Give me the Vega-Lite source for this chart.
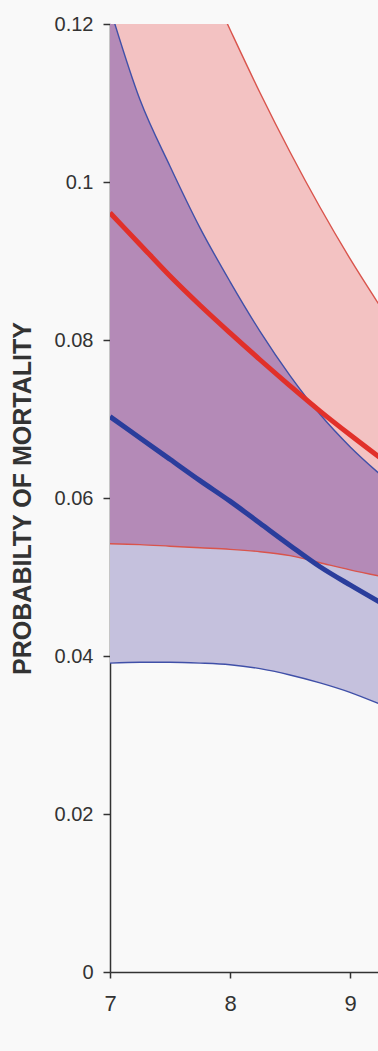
{
  "$schema": "https://vega.github.io/schema/vega-lite/v6.json",
  "width": 268,
  "height": 948,
  "autosize": {"type": "none"},
  "padding": {"left": 110, "top": 24, "right": 0, "bottom": 79},
  "background": "#f9f9f9",
  "config": {
    "view": {"stroke": null},
    "axis": {"grid": false, "labelFont": "Liberation Sans", "titleFont": "Liberation Sans", "labelColor": "#333333", "titleColor": "#333333", "domainColor": "#333333", "tickColor": "#333333", "domainWidth": 1.5, "tickWidth": 1.5, "labelFlush": false}
  },
  "data": {
    "values": [
      {"x": 7.0, "red_lo": 0.0542, "red_mean": 0.0961, "red_hi": 0.155, "blue_lo": 0.0391, "blue_mean": 0.0703, "blue_hi": 0.122},
      {"x": 7.25, "red_lo": 0.0541, "red_mean": 0.0921, "red_hi": 0.145, "blue_lo": 0.0392, "blue_mean": 0.0676, "blue_hi": 0.1104},
      {"x": 7.5, "red_lo": 0.0539, "red_mean": 0.0881, "red_hi": 0.136, "blue_lo": 0.0392, "blue_mean": 0.0649, "blue_hi": 0.102},
      {"x": 7.75, "red_lo": 0.0537, "red_mean": 0.0844, "red_hi": 0.1275, "blue_lo": 0.0391, "blue_mean": 0.0622, "blue_hi": 0.0942},
      {"x": 8.0, "red_lo": 0.0535, "red_mean": 0.0809, "red_hi": 0.1193, "blue_lo": 0.0389, "blue_mean": 0.0596, "blue_hi": 0.0874},
      {"x": 8.25, "red_lo": 0.0532, "red_mean": 0.0775, "red_hi": 0.1113, "blue_lo": 0.0384, "blue_mean": 0.0568, "blue_hi": 0.0811},
      {"x": 8.5, "red_lo": 0.0527, "red_mean": 0.0742, "red_hi": 0.1038, "blue_lo": 0.0376, "blue_mean": 0.054, "blue_hi": 0.0755},
      {"x": 8.75, "red_lo": 0.0518, "red_mean": 0.071, "red_hi": 0.0968, "blue_lo": 0.0366, "blue_mean": 0.0513, "blue_hi": 0.0706},
      {"x": 9.0, "red_lo": 0.0509, "red_mean": 0.068, "red_hi": 0.0903, "blue_lo": 0.0354, "blue_mean": 0.049, "blue_hi": 0.0665},
      {"x": 9.25, "red_lo": 0.0501, "red_mean": 0.0651, "red_hi": 0.0843, "blue_lo": 0.0339, "blue_mean": 0.0468, "blue_hi": 0.063}
    ]
  },
  "encoding": {
    "x": {"field": "x", "type": "quantitative", "scale": {"domain": [7, 9.2333], "nice": false, "zero": false},
      "axis": {"values": [7, 8, 9], "title": null, "labelFontSize": 22, "tickSize": 6, "labelPadding": 15}}
  },
  "layer": [
    {"mark": {"type": "area", "color": "#f3c2c2", "interpolate": "monotone", "clip": true},
     "encoding": {"y": {"field": "red_lo", "type": "quantitative", "scale": {"domain": [0, 0.12], "nice": false}, "title": "PROBABILTY OF MORTALITY",
        "axis": {"values": [0, 0.02, 0.04, 0.06, 0.08, 0.1, 0.12], "format": ".2~f", "labelFontSize": 20, "tickSize": 7, "labelPadding": 10, "titleFontSize": 25, "titleFontWeight": "bold", "titlePadding": 19}},
       "y2": {"field": "red_hi"}}},
    {"mark": {"type": "area", "color": "#c5c1dd", "interpolate": "monotone", "clip": true},
     "encoding": {"y": {"field": "blue_lo", "type": "quantitative", "scale": {"domain": [0, 0.12], "nice": false}, "title": "PROBABILTY OF MORTALITY",
        "axis": {"values": [0, 0.02, 0.04, 0.06, 0.08, 0.1, 0.12], "format": ".2~f", "labelFontSize": 20, "tickSize": 7, "labelPadding": 10, "titleFontSize": 25, "titleFontWeight": "bold", "titlePadding": 19}},
       "y2": {"field": "blue_hi"}}},
    {"mark": {"type": "area", "color": "#b48ab7", "interpolate": "monotone", "clip": true},
     "encoding": {"y": {"field": "red_lo", "type": "quantitative", "scale": {"domain": [0, 0.12], "nice": false}, "title": "PROBABILTY OF MORTALITY",
        "axis": {"values": [0, 0.02, 0.04, 0.06, 0.08, 0.1, 0.12], "format": ".2~f", "labelFontSize": 20, "tickSize": 7, "labelPadding": 10, "titleFontSize": 25, "titleFontWeight": "bold", "titlePadding": 19}},
       "y2": {"field": "blue_hi"}}},
    {"mark": {"type": "line", "color": "#d9544c", "strokeWidth": 1.4, "interpolate": "monotone", "clip": true},
     "encoding": {"y": {"field": "red_hi", "type": "quantitative", "scale": {"domain": [0, 0.12], "nice": false}, "title": "PROBABILTY OF MORTALITY",
        "axis": {"values": [0, 0.02, 0.04, 0.06, 0.08, 0.1, 0.12], "format": ".2~f", "labelFontSize": 20, "tickSize": 7, "labelPadding": 10, "titleFontSize": 25, "titleFontWeight": "bold", "titlePadding": 19}}}},
    {"mark": {"type": "line", "color": "#d9544c", "strokeWidth": 1.4, "interpolate": "monotone", "clip": true},
     "encoding": {"y": {"field": "red_lo", "type": "quantitative", "scale": {"domain": [0, 0.12], "nice": false}, "title": "PROBABILTY OF MORTALITY",
        "axis": {"values": [0, 0.02, 0.04, 0.06, 0.08, 0.1, 0.12], "format": ".2~f", "labelFontSize": 20, "tickSize": 7, "labelPadding": 10, "titleFontSize": 25, "titleFontWeight": "bold", "titlePadding": 19}}}},
    {"mark": {"type": "line", "color": "#4050a8", "strokeWidth": 1.4, "interpolate": "monotone", "clip": true},
     "encoding": {"y": {"field": "blue_hi", "type": "quantitative", "scale": {"domain": [0, 0.12], "nice": false}, "title": "PROBABILTY OF MORTALITY",
        "axis": {"values": [0, 0.02, 0.04, 0.06, 0.08, 0.1, 0.12], "format": ".2~f", "labelFontSize": 20, "tickSize": 7, "labelPadding": 10, "titleFontSize": 25, "titleFontWeight": "bold", "titlePadding": 19}}}},
    {"mark": {"type": "line", "color": "#4050a8", "strokeWidth": 1.4, "interpolate": "monotone", "clip": true},
     "encoding": {"y": {"field": "blue_lo", "type": "quantitative", "scale": {"domain": [0, 0.12], "nice": false}, "title": "PROBABILTY OF MORTALITY",
        "axis": {"values": [0, 0.02, 0.04, 0.06, 0.08, 0.1, 0.12], "format": ".2~f", "labelFontSize": 20, "tickSize": 7, "labelPadding": 10, "titleFontSize": 25, "titleFontWeight": "bold", "titlePadding": 19}}}},
    {"mark": {"type": "line", "color": "#e1302a", "strokeWidth": 5, "interpolate": "monotone", "clip": true},
     "encoding": {"y": {"field": "red_mean", "type": "quantitative", "scale": {"domain": [0, 0.12], "nice": false}, "title": "PROBABILTY OF MORTALITY",
        "axis": {"values": [0, 0.02, 0.04, 0.06, 0.08, 0.1, 0.12], "format": ".2~f", "labelFontSize": 20, "tickSize": 7, "labelPadding": 10, "titleFontSize": 25, "titleFontWeight": "bold", "titlePadding": 19}}}},
    {"mark": {"type": "line", "color": "#2a3d9c", "strokeWidth": 5, "interpolate": "monotone", "clip": true},
     "encoding": {"y": {"field": "blue_mean", "type": "quantitative", "scale": {"domain": [0, 0.12], "nice": false}, "title": "PROBABILTY OF MORTALITY",
        "axis": {"values": [0, 0.02, 0.04, 0.06, 0.08, 0.1, 0.12], "format": ".2~f", "labelFontSize": 20, "tickSize": 7, "labelPadding": 10, "titleFontSize": 25, "titleFontWeight": "bold", "titlePadding": 19}}}}
  ]
}
